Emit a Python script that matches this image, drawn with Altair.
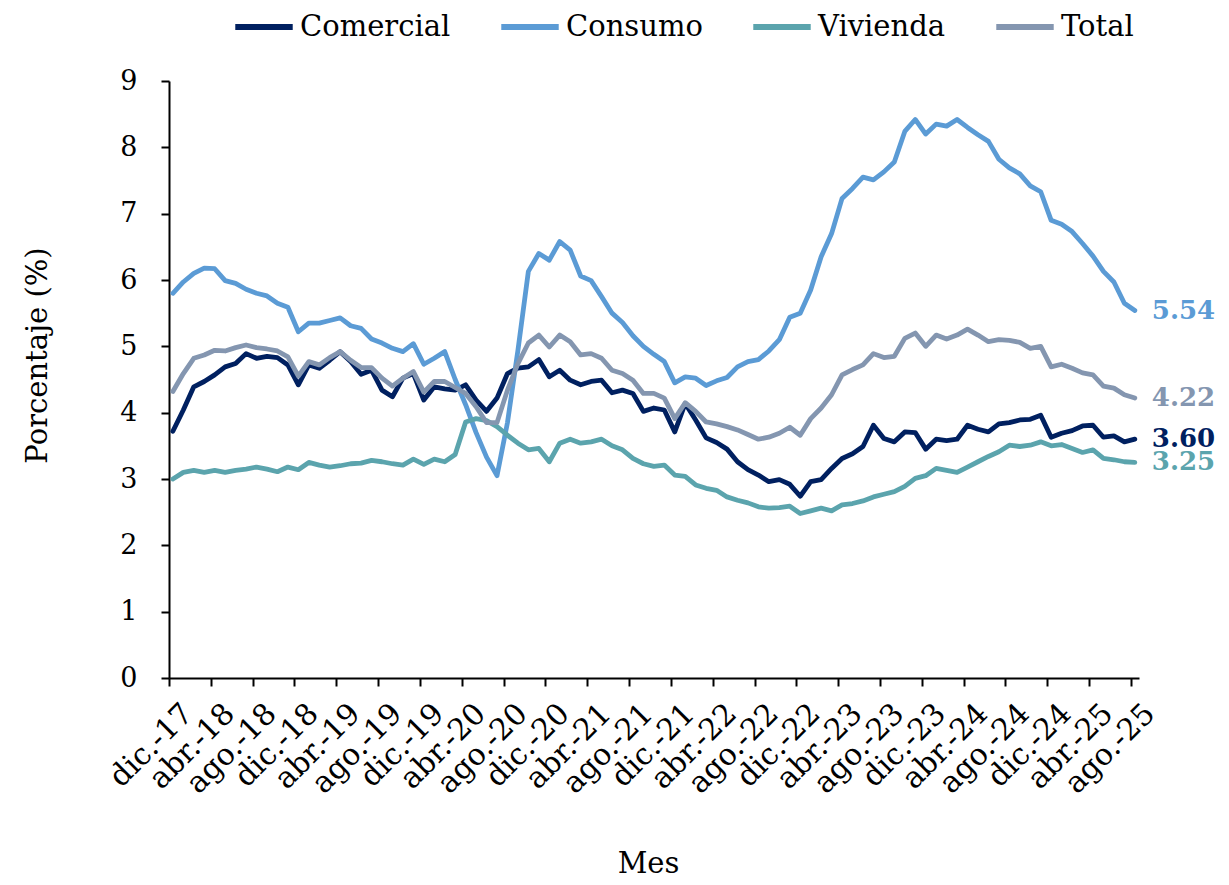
import json
import altair as alt
import pandas as pd

# Etiquetas del eje X (cada 4 meses)
tick_labels = ["dic.-17", "abr.-18", "ago.-18", "dic.-18", "abr.-19", "ago.-19",
               "dic.-19", "abr.-20", "ago.-20", "dic.-20", "abr.-21", "ago.-21",
               "dic.-21", "abr.-22", "ago.-22", "dic.-22", "abr.-23", "ago.-23",
               "dic.-23", "abr.-24", "ago.-24", "dic.-24", "abr.-25", "ago.-25"]

series_names = ["Comercial", "Consumo", "Vivienda", "Total"]
series_colors = ["#002060", "#5B9BD5", "#5BA4AD", "#8496B0"]

# Series mensuales dic.-17 ... ago.-25 (93 meses)
comercial = [3.72, 4.04, 4.39, 4.47, 4.57, 4.69, 4.74, 4.89, 4.82, 4.85,
             4.83, 4.72, 4.42, 4.72, 4.67, 4.79, 4.92, 4.77, 4.58, 4.64,
             4.34, 4.24, 4.52, 4.59, 4.19, 4.39, 4.36, 4.34, 4.42, 4.19,
             4.02, 4.22, 4.59, 4.67, 4.69, 4.80, 4.54, 4.64, 4.49, 4.42,
             4.47, 4.49, 4.30, 4.34, 4.29, 4.02, 4.07, 4.04, 3.71, 4.14,
             3.89, 3.62, 3.55, 3.45, 3.26, 3.14, 3.06, 2.96, 2.99, 2.92,
             2.74, 2.96, 2.99, 3.16, 3.31, 3.38, 3.49, 3.81, 3.61, 3.56,
             3.71, 3.70, 3.45, 3.60, 3.58, 3.60, 3.81, 3.75, 3.71, 3.83,
             3.85, 3.89, 3.90, 3.96, 3.63, 3.69, 3.73, 3.80, 3.81, 3.63,
             3.65, 3.56, 3.60]

consumo = [5.80, 5.97, 6.10, 6.18, 6.17, 5.99, 5.95, 5.86, 5.80, 5.76,
           5.65, 5.59, 5.22, 5.35, 5.35, 5.39, 5.43, 5.31, 5.27, 5.11,
           5.05, 4.97, 4.92, 5.04, 4.73, 4.82, 4.92, 4.50, 4.12, 3.70,
           3.33, 3.05, 3.85, 4.94, 6.13, 6.40, 6.30, 6.58, 6.45, 6.06,
           5.99, 5.75, 5.50, 5.36, 5.16, 5.00, 4.88, 4.77, 4.45, 4.54,
           4.52, 4.41, 4.48, 4.53, 4.69, 4.77, 4.80, 4.93, 5.10, 5.44,
           5.50, 5.85, 6.35, 6.70, 7.23, 7.38, 7.55, 7.51, 7.63, 7.78,
           8.24, 8.42, 8.20, 8.35, 8.32, 8.42, 8.30, 8.19, 8.09, 7.82,
           7.69, 7.60, 7.42, 7.33, 6.90, 6.84, 6.73, 6.55, 6.36, 6.13,
           5.97, 5.65, 5.54]

vivienda = [3.00, 3.10, 3.13, 3.10, 3.13, 3.10, 3.13, 3.15, 3.18, 3.15,
            3.11, 3.18, 3.14, 3.25, 3.21, 3.18, 3.20, 3.23, 3.24, 3.28,
            3.26, 3.23, 3.21, 3.30, 3.22, 3.30, 3.26, 3.37, 3.86, 3.91,
            3.88, 3.79, 3.66, 3.54, 3.44, 3.46, 3.26, 3.54, 3.60, 3.54,
            3.56, 3.60, 3.50, 3.44, 3.31, 3.23, 3.19, 3.21, 3.06, 3.04,
            2.91, 2.86, 2.83, 2.73, 2.68, 2.64, 2.58, 2.56, 2.57, 2.59,
            2.48, 2.52, 2.56, 2.52, 2.61, 2.63, 2.67, 2.73, 2.77, 2.81,
            2.89, 3.01, 3.05, 3.16, 3.13, 3.10, 3.18, 3.26, 3.34, 3.41,
            3.51, 3.49, 3.51, 3.56, 3.50, 3.52, 3.46, 3.40, 3.44, 3.31,
            3.29, 3.26, 3.25]

total = [4.32, 4.59, 4.82, 4.87, 4.94, 4.93, 4.98, 5.02, 4.98, 4.96,
         4.93, 4.84, 4.55, 4.77, 4.72, 4.83, 4.92, 4.79, 4.68, 4.68,
         4.52, 4.40, 4.52, 4.62, 4.31, 4.47, 4.47, 4.38, 4.29, 4.09,
         3.85, 3.85, 4.34, 4.74, 5.05, 5.17, 4.99, 5.17, 5.07, 4.87,
         4.89, 4.82, 4.64, 4.59, 4.49, 4.29, 4.29, 4.22, 3.91, 4.15,
         4.02, 3.86, 3.83, 3.79, 3.74, 3.67, 3.60, 3.63, 3.69, 3.78,
         3.66, 3.91, 4.07, 4.27, 4.57, 4.65, 4.72, 4.89, 4.83, 4.85,
         5.12, 5.20, 5.00, 5.17, 5.11, 5.17, 5.26, 5.17, 5.07, 5.10,
         5.09, 5.06, 4.97, 5.00, 4.69, 4.73, 4.67, 4.60, 4.57, 4.40,
         4.37, 4.27, 4.22]

rows = []
for name, vals in zip(series_names, [comercial, consumo, vivienda, total]):
    for i, v in enumerate(vals):
        rows.append({"serie": name, "t": i, "valor": v})
df = pd.DataFrame(rows)
last = df.groupby("serie", as_index=False).tail(1).copy()
last["texto"] = last["valor"].map(lambda v: f"{v:.2f}")

OFF = 0.37
tick_vals = [k * 4 - OFF for k in range(len(tick_labels))]
label_expr = json.dumps(tick_labels) + f"[round((datum.value + {OFF}) / 4)]"

FONT = "DejaVu Serif"

x_enc = alt.X("t:Q",
              scale=alt.Scale(domain=[-OFF, 92.4], nice=False, zero=False),
              axis=alt.Axis(values=tick_vals, labelExpr=label_expr,
                            labelAngle=-45, labelAlign="right", labelBaseline="top",
                            labelPadding=12, labelOffset=8, labelFontSize=30,
                            labelOverlap=False, grid=False,
                            tickSize=8, tickWidth=2, tickColor="black",
                            domainColor="black", domainWidth=2,
                            title="Mes", titleFontSize=29, titleFontWeight="normal",
                            titleX=479, titleY=185, titleAlign="center",
                            titleBaseline="middle"))
y_enc = alt.Y("valor:Q",
              scale=alt.Scale(domain=[0, 9], nice=False),
              axis=alt.Axis(values=list(range(10)), format="d", labelFontSize=27,
                            labelPadding=24,
                            grid=False, tickSize=8, tickWidth=2, tickColor="black",
                            domainColor="black", domainWidth=2,
                            title="Porcentaje (%)", titleFontSize=29,
                            titleFontWeight="normal", titleAngle=270,
                            titleX=-132, titleY=274, titleAlign="center",
                            titleBaseline="middle"))
color_scale = alt.Scale(domain=series_names, range=series_colors)

lines = alt.Chart(df).mark_line(strokeWidth=4.8, strokeCap="round", strokeJoin="round").encode(
    x=x_enc,
    y=y_enc,
    color=alt.Color("serie:N", scale=color_scale, sort=series_names,
                    legend=alt.Legend(title=None, orient="none", legendX=63, legendY=-86,
                                      direction="horizontal", symbolType="stroke",
                                      symbolStrokeWidth=6, symbolSize=3300,
                                      labelFontSize=29, labelOffset=4, columnPadding=38,
                                      labelLimit=400, padding=0, labelColor="black")),
)

labels = alt.Chart(last).mark_text(align="left", baseline="middle", dx=17,
                                   fontSize=26, fontWeight="bold").encode(
    x="t:Q",
    y="valor:Q",
    text="texto:N",
    color=alt.Color("serie:N", scale=color_scale, legend=None),
)

chart = alt.layer(lines, labels).properties(
    width=970, height=597,
    autosize=alt.AutoSizeParams(type="none"),
    padding={"left": 161, "top": 73, "right": 82, "bottom": 204},
).configure(font=FONT).configure_view(stroke=None).configure_axis(
    labelColor="black", titleColor="black", labelFont=FONT, titleFont=FONT
).configure_legend(labelFont=FONT)

chart.save("out.html", embed_options={"renderer": "svg", "actions": False})
